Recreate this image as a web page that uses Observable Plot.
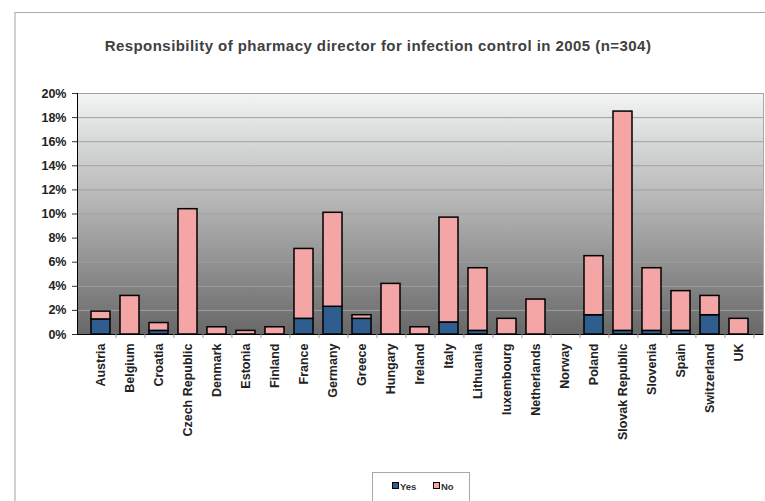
<!DOCTYPE html>
<html>
<head>
<meta charset="utf-8">
<script src="https://cdn.jsdelivr.net/npm/d3@7"></script>
<script src="https://cdn.jsdelivr.net/npm/@observablehq/plot@0.6"></script>
<style>
  html, body { margin: 0; padding: 0; background: #fff; }
  #wrap { position: relative; width: 765px; height: 501px; overflow: hidden; font-family: "Liberation Sans", Arial, sans-serif; }
  #outer { position: absolute; left: 14px; top: 12px; width: 800px; height: 600px; border-top: 1.5px solid #aaaaaa; border-left: 2px solid #d0d0d0; }
  #title { position: absolute; left: 0; width: 756px; top: 37px; text-align: center; font-weight: bold; font-size: 15px; letter-spacing: 0.45px; color: #404040; }
  #chart { position: absolute; left: 0; top: 0; }
  #legend { position: absolute; left: 372px; top: 472px; width: 96px; height: 28px; border: 1px solid #a8a8a8; background: #fff; font-size: 9.5px; font-weight: bold; color: #333; }
  .item { position: absolute; top: 9px; line-height: 10px; }
  .sw { display: inline-block; width: 5px; height: 5px; border: 1px solid #000; margin-right: 1px; vertical-align: 1px; }
</style>
</head>
<body>
<div id="wrap">
  <div id="outer"></div>
  <div id="chart"></div>
  <div id="title">Responsibility of pharmacy director for infection control in 2005 (n=304)</div>
  <div id="legend">
    <div class="item" style="left:19px"><span class="sw" style="background:#2f5e8e"></span>Yes</div>
    <div class="item" style="left:60px"><span class="sw" style="background:#f4a5a6"></span>No</div>
  </div>
</div>
<script>
const countries = ["Austria","Belgium","Croatia","Czech Republic","Denmark","Estonia","Finland","France","Germany","Greece","Hungary","Ireland","Italy","Lithuania","luxembourg","Netherlands","Norway","Poland","Slovak Republic","Slovenia","Spain","Switzerland","UK"];
const yesValues = [1.25, 0, 0.3, 0, 0, 0, 0, 1.3, 2.3, 1.3, 0, 0, 1.0, 0.3, 0, 0, 0, 1.6, 0.3, 0.3, 0.3, 1.6, 0];
const noValues  = [0.65, 3.2, 0.65, 10.4, 0.6, 0.3, 0.6, 5.8, 7.8, 0.3, 4.2, 0.6, 8.7, 5.2, 1.3, 2.9, 0, 4.9, 18.2, 5.2, 3.3, 1.6, 1.3];
const answers = ["Yes", "No"];
const colors = ["#2f5e8e", "#f4a5a6"];
const yTicks = [0, 2, 4, 6, 8, 10, 12, 14, 16, 18, 20];

const rows = [];
countries.forEach((c, i) => {
  rows.push({country: c, answer: "Yes", value: yesValues[i]});
  rows.push({country: c, answer: "No", value: noValues[i]});
});
const data = rows.filter(d => d.value > 0);

const W = 765, H = 470, mL = 77, mR = 2, mT = 93, mB = 136;
const step = (W - mL - mR) / countries.length;

const defs = () => {
  const g = d3.create("svg:defs");
  const lg = g.append("linearGradient").attr("id", "bgGrad").attr("x1", 0).attr("y1", 0).attr("x2", 0).attr("y2", 1);
  lg.append("stop").attr("offset", "0%").attr("stop-color", "#f3f4f4");
  lg.append("stop").attr("offset", "100%").attr("stop-color", "#686868");
  return g.node();
};

const plot = Plot.plot({
  width: W, height: H,
  marginLeft: mL, marginRight: mR, marginTop: mT, marginBottom: mB,
  style: {background: "transparent", fontFamily: "'Liberation Sans', Arial, sans-serif", overflow: "visible"},
  x: {domain: countries, paddingInner: 0.33, paddingOuter: 0.165, label: null},
  y: {domain: [0, 20], label: null},
  color: {domain: answers, range: colors},
  marks: [
    defs,
    Plot.frame({fill: "url(#bgGrad)", stroke: "#a8a8a8"}),
    Plot.ruleY(yTicks.slice(1), {stroke: "#a0a0a0", strokeWidth: 1}),
    Plot.barY(data, {x: "country", y: "value", fill: "answer", stroke: "#000", strokeWidth: 1.5, order: answers}),
    Plot.ruleY([0], {stroke: "#000", strokeWidth: 1}),
    Plot.frame({anchor: "left", stroke: "#000", strokeWidth: 1}),
    Plot.axisY({ticks: yTicks, tickFormat: d => d + "%", tickSize: 5, tickPadding: 6, fontWeight: "bold", fontSize: 12.5, fill: "#222", stroke: "#333"}),
    Plot.axisX({tickSize: 4, tickFormat: () => "", dx: step / 2, stroke: "#999"}),
    Plot.axisX({tickSize: 0, tickPadding: 9, tickRotate: -90, fontWeight: "bold", fontSize: 12.5, fill: "#222", label: null})
  ]
});
document.getElementById("chart").appendChild(plot);
</script>
</body>
</html>
